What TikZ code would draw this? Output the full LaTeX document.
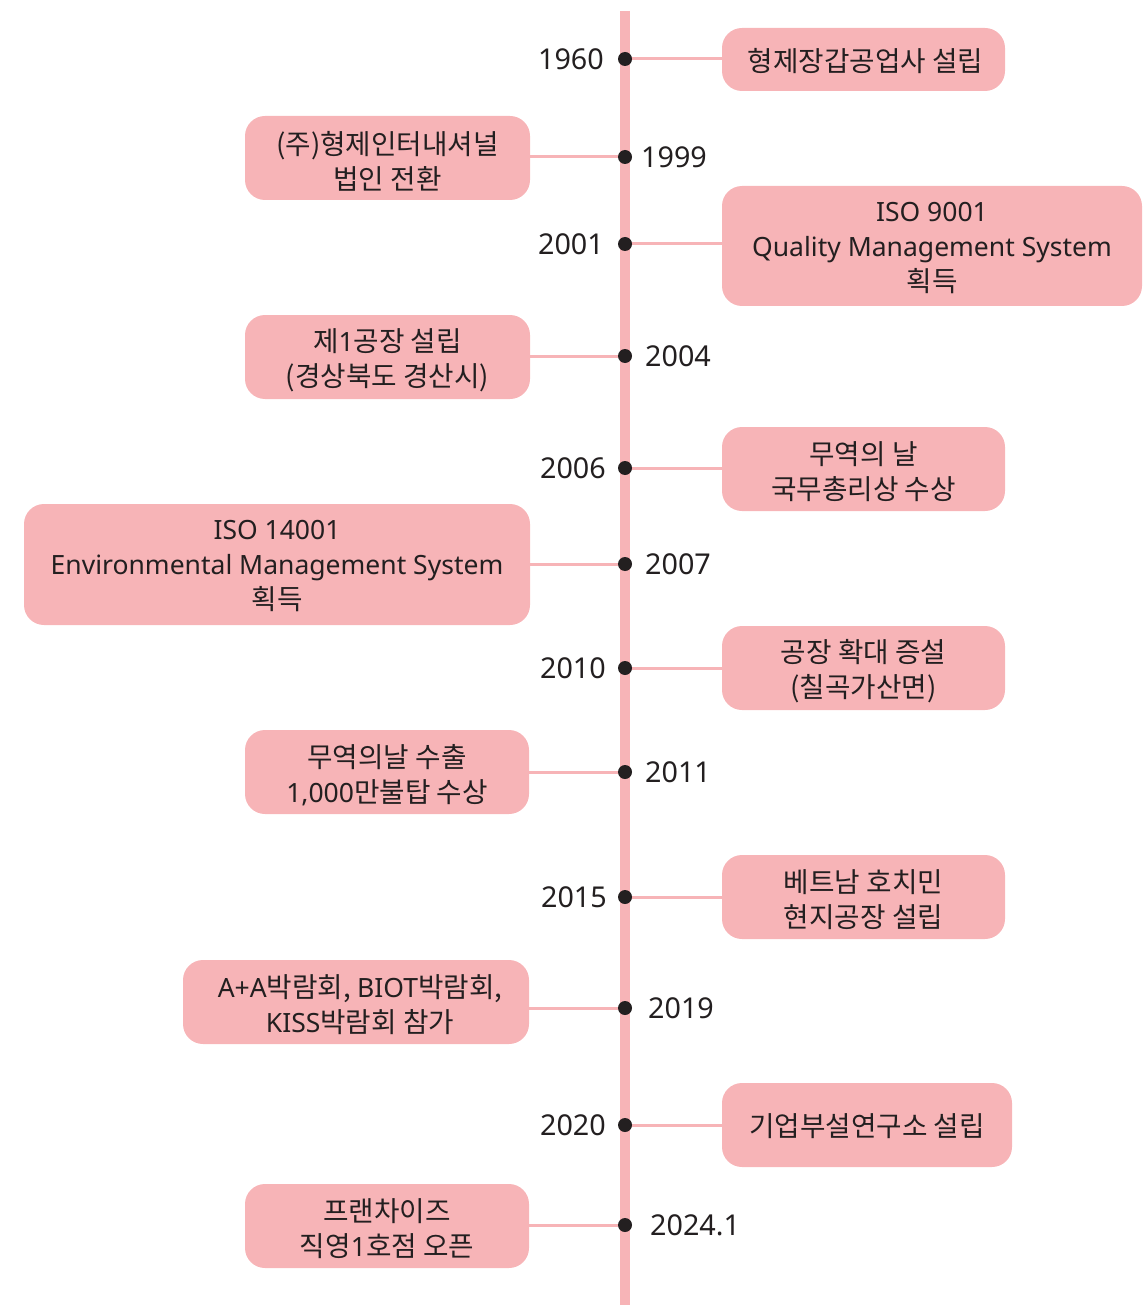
\documentclass[tikz,border=0pt]{standalone}
\usepackage{fontspec}
\setmainfont{Noto Sans CJK KR}
\newfontfamily\lat{Noto Sans}[Scale=0.957]
\definecolor{pk}{HTML}{F7B4B7}
\definecolor{tx}{HTML}{231F20}
\tikzset{
  evt/.style={fill=pk, rounded corners=20pt, inner sep=0pt},
  evtx/.style={align=center, text=tx, inner sep=0pt,
    font=\fontsize{27.7}{35}\selectfont},
  yr/.style={text=tx, inner sep=0pt, font=\fontsize{30}{34}\selectfont\lat},
  tdot/.style={circle, fill=tx, inner sep=0pt, minimum size=14pt},
  conn/.style={draw=pk, line width=3pt},
  axis/.style={draw=pk, line width=10pt},
}
\begin{document}
\begin{tikzpicture}[x=1pt,y=-1pt]
\useasboundingbox (0,0) rectangle (1142,1305);
\coordinate (top) at (625,11);
\coordinate (bot) at (625,1305);
\draw[axis] (top) -- (bot);

% event boxes
\node[evt, minimum width=283pt, minimum height=63pt] (b1) at (863.5,59.5) {};
\node[evt, minimum width=285pt, minimum height=84pt] (b2) at (387.5,158) {};
\node[evt, minimum width=420pt, minimum height=120pt] (b3) at (932,246) {};
\node[evt, minimum width=285pt, minimum height=84pt] (b4) at (387.5,357) {};
\node[evt, minimum width=283pt, minimum height=84pt] (b5) at (863.5,469) {};
\node[evt, minimum width=506pt, minimum height=121pt] (b6) at (277,564.5) {};
\node[evt, minimum width=283pt, minimum height=84pt] (b7) at (863.5,668) {};
\node[evt, minimum width=284pt, minimum height=84pt] (b8) at (387,772) {};
\node[evt, minimum width=283pt, minimum height=84pt] (b9) at (863.5,897) {};
\node[evt, minimum width=346pt, minimum height=84pt] (b10) at (356,1002) {};
\node[evt, minimum width=290pt, minimum height=84pt] (b11) at (867,1125) {};
\node[evt, minimum width=284pt, minimum height=84pt] (b12) at (387,1226) {};

% event texts
\node[evtx] (t1) at ([xshift=2pt,yshift=-1.5pt]b1.center) {형제장갑공업사 설립};
\node[evtx] (t2) at ([yshift=-3pt]b2.center) {(주)형제인터내셔널\\법인 전환};
\node[evtx] (t3) at ([yshift=-2pt]b3.center) {{\lat ISO 9001}\\{\lat Quality Management System}\\획득};
\node[evtx] (t4) at ([yshift=-3pt]b4.center) {제{\lat 1}공장 설립\\(경상북도 경산시)};
\node[evtx] (t5) at ([yshift=-3pt]b5.center) {무역의 날\\국무총리상 수상};
\node[evtx] (t6) at ([yshift=-2pt]b6.center) {{\lat ISO 14001}\\{\lat Environmental Management System}\\획득};
\node[evtx] (t7) at ([yshift=-3pt]b7.center) {공장 확대 증설\\(칠곡가산면)};
\node[evtx] (t8) at ([yshift=-3pt]b8.center) {무역의날 수출\\{\lat 1,000}만불탑 수상};
\node[evtx] (t9) at ([yshift=-3pt]b9.center) {베트남 호치민\\현지공장 설립};
\node[evtx] (t10) at ([xshift=4pt,yshift=-3pt]b10.center) {{\lat A+A}박람회, {\lat BIOT}박람회,\\{\lat KISS}박람회 참가};
\node[evtx] (t11) at ([yshift=-1.5pt]b11.center) {기업부설연구소 설립};
\node[evtx] (t12) at ([yshift=-3pt]b12.center) {프랜차이즈\\직영{\lat 1}호점 오픈};

% timeline points
\coordinate (p1) at (625,59);
\coordinate (p2) at (625,157);
\coordinate (p3) at (625,244);
\coordinate (p4) at (625,356);
\coordinate (p5) at (625,468);
\coordinate (p6) at (625,564);
\coordinate (p7) at (625,668);
\coordinate (p8) at (625,772);
\coordinate (p9) at (625,897);
\coordinate (p10) at (625,1008);
\coordinate (p11) at (625,1125);
\coordinate (p12) at (625,1225);

% connectors
\draw[conn] (p1) -- (p1 -| b1.west);
\draw[conn] (p2) -- (p2 -| b2.east);
\draw[conn] (p3) -- (p3 -| b3.west);
\draw[conn] (p4) -- (p4 -| b4.east);
\draw[conn] (p5) -- (p5 -| b5.west);
\draw[conn] (p6) -- (p6 -| b6.east);
\draw[conn] (p7) -- (p7 -| b7.west);
\draw[conn] (p8) -- (p8 -| b8.east);
\draw[conn] (p9) -- (p9 -| b9.west);
\draw[conn] (p10) -- (p10 -| b10.east);
\draw[conn] (p11) -- (p11 -| b11.west);
\draw[conn] (p12) -- (p12 -| b12.east);

% dots
\foreach \i in {1,...,12} { \node[tdot] (d\i) at (p\i) {}; }

% year labels
\node[yr, anchor=east] (y1) at (604,59) {1960};
\node[yr, anchor=west] (y2) at (641,157) {1999};
\node[yr, anchor=east] (y3) at (604,244) {2001};
\node[yr, anchor=west] (y4) at (645,356) {2004};
\node[yr, anchor=east] (y5) at (606,468) {2006};
\node[yr, anchor=west] (y6) at (645,564) {2007};
\node[yr, anchor=east] (y7) at (606,668) {2010};
\node[yr, anchor=west] (y8) at (645,772) {2011};
\node[yr, anchor=east] (y9) at (607,897) {2015};
\node[yr, anchor=west] (y10) at (648,1008) {2019};
\node[yr, anchor=east] (y11) at (606,1125) {2020};
\node[yr, anchor=west] (y12) at (650,1225) {2024.1};
\end{tikzpicture}
\end{document}
